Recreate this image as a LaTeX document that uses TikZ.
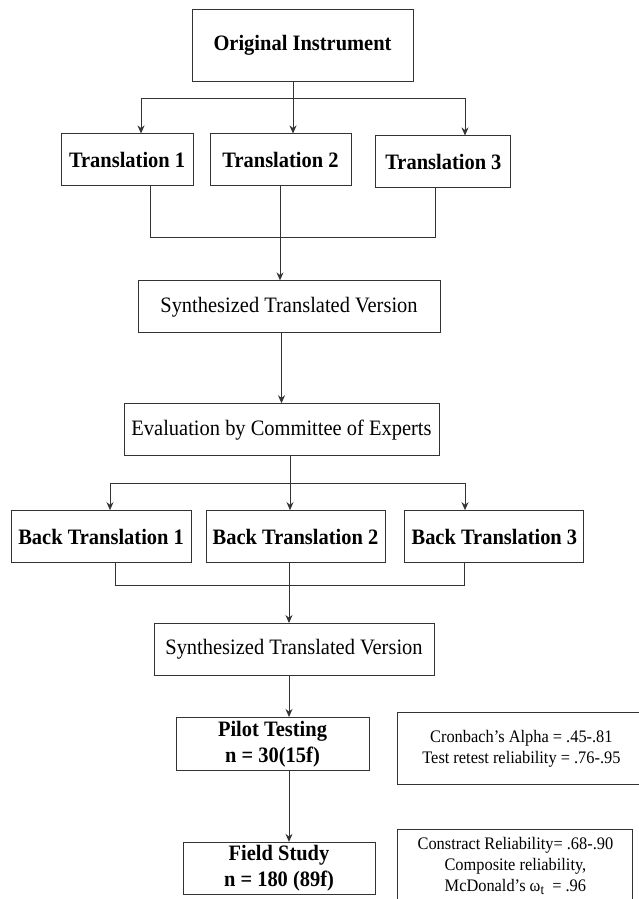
\documentclass[tikz,border=0pt]{standalone}
\usepackage{fontspec}
\setmainfont{Liberation Serif}[FakeStretch=0.93]
\usetikzlibrary{positioning, arrows.meta}
\definecolor{edge}{HTML}{333333}

\begin{document}
\begin{tikzpicture}[x=1pt,y=-1pt,
  stage/.style={draw=edge,line width=0.9pt,inner sep=0pt,minimum height=52pt,
                align=center,font=\fontsize{22}{26}\selectfont},
  hstage/.style={stage,font=\fontsize{22}{26}\selectfont\bfseries},
  note/.style={draw=edge,line width=0.9pt,inner sep=0pt,align=center,
               font=\fontsize{17.6}{21}\selectfont},
  wire/.style={edge,line width=0.9pt},
  arr/.style={wire,-{Stealth[length=8pt,width=7pt]}}]
  \useasboundingbox (0,0) rectangle (639,899);
  % forward translations
  \node[hstage, minimum width=221pt, minimum height=72pt] (orig) at (302.5,45) {Original Instrument};
  \node[hstage, minimum width=141pt, below=52pt of orig, xshift=-22pt] (tr2) {Translation 2};
  \node[hstage, minimum width=132pt, left=16pt of tr2] (tr1) {Translation 1};
  \node[hstage, minimum width=135pt, right=24pt of tr2, yshift=-2pt] (tr3) {Translation 3};
  \node[stage, minimum width=302pt, below=94pt of tr2, xshift=8.5pt] (syn1) {Synthesized Translated Version};
  \node[stage, minimum width=315pt, below=70pt of syn1, xshift=-7.5pt] (eval) {Evaluation by Committee of Experts};
  % back translations
  \node[hstage, minimum width=179pt, below=54pt of eval, xshift=14pt] (bt2) {Back Translation 2};
  \node[hstage, minimum width=180pt, left=14pt of bt2] (bt1) {Back Translation 1};
  \node[hstage, minimum width=179pt, right=19pt of bt2] (bt3) {Back Translation 3};
  \node[stage, minimum width=280pt, below=60pt of bt2, xshift=-1.5pt] (syn2) {Synthesized Translated Version};
  % testing
  \node[hstage, minimum width=193pt, minimum height=53pt, below=41pt of syn2, xshift=-21.5pt] (pilot) {Pilot Testing\\n = 30(15f)};
  \node[hstage, minimum width=192pt, below=71pt of pilot, xshift=6.5pt] (field) {Field Study\\n = 180 (89f)};
  \node[note, minimum width=248pt, minimum height=72pt, right=25pt of pilot, yshift=-4.5pt, xshift=2.5pt] (alpha)
    {Cronbach’s Alpha = .45-.81\\Test retest reliability = .76-.95};
  \node[note, minimum width=235pt, minimum height=80pt, right=22pt of field, yshift=-1pt] (crel)
    {Constract Reliability= .68-.90\\Composite reliability,\\McDonald’s ω\raisebox{-0.35ex}{\fontsize{14}{14}\selectfont t}\ \ = .96\rule[-9pt]{0pt}{0pt}};

  \coordinate (fkA) at (293,98);
  \coordinate (fkAl) at (141,98);
  \coordinate (fkAr) at (465,98);
  \draw[wire] (orig.south -| fkA) -- (fkA);
  \draw[wire] (fkAl) -- (fkAr);
  \draw[arr] (fkAl) -- (fkAl |- tr1.north);
  \draw[arr] (fkA) -- (fkA |- tr2.north);
  \draw[arr] (fkAr) -- (fkAr |- tr3.north);

  \coordinate (mgA) at (280,237);
  \coordinate (mgAl) at (150,237);
  \coordinate (mgAr) at (435,237);
  \draw[wire] (tr1.south -| mgAl) -- (mgAl) -- (mgAr) -- (tr3.south -| mgAr);
  \draw[arr] (tr2.south -| mgA) -- (mgA |- syn1.north);
  \draw[arr] (syn1.south -| eval.north) -- (eval.north);

  \coordinate (fkB) at (290,483);
  \coordinate (fkBl) at (110,483);
  \coordinate (fkBr) at (465,483);
  \draw[wire] (eval.south -| fkB) -- (fkB);
  \draw[wire] (fkBl) -- (fkBr);
  \draw[arr] (fkBl) -- (fkBl |- bt1.north);
  \draw[arr] (fkB) -- (fkB |- bt2.north);
  \draw[arr] (fkBr) -- (fkBr |- bt3.north);

  \coordinate (mgB) at (289,585);
  \coordinate (mgBl) at (115,585);
  \coordinate (mgBr) at (464,585);
  \draw[wire] (bt1.south -| mgBl) -- (mgBl) -- (mgBr) -- (bt3.south -| mgBr);
  \draw[arr] (bt2.south -| mgB) -- (mgB |- syn2.north);
  \draw[arr] (syn2.south -| mgB) -- (mgB |- pilot.north);
  \draw[arr] (pilot.south -| mgB) -- (mgB |- field.north);
\end{tikzpicture}
\end{document}
